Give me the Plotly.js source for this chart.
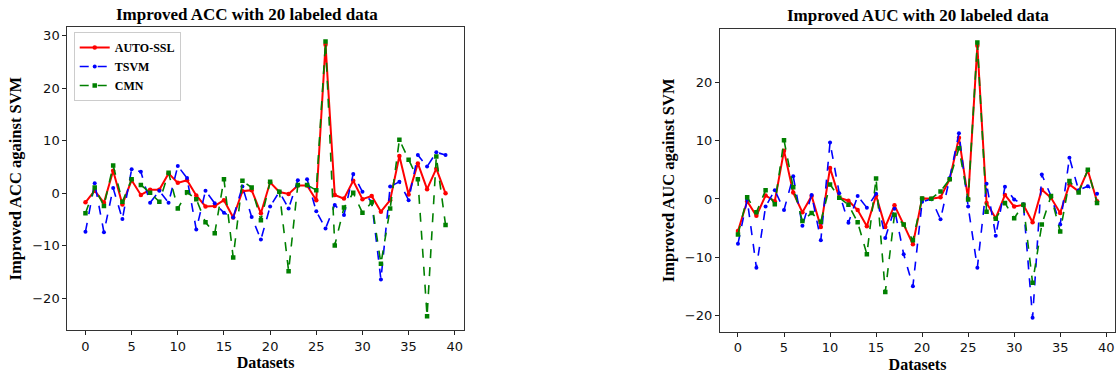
<!DOCTYPE html>
<html>
<head>
<meta charset="utf-8">
<script src="https://cdn.plot.ly/plotly-3.0.1.min.js"></script>
<style>html,body{margin:0;padding:0;background:#fff;}#chart{width:1117px;height:377px;}</style>
</head>
<body>
<div id="chart"></div>
<script>
const datasets = Array.from({length: 40}, (_, i) => i);
const seriesNames = ["AUTO-SSL", "TSVM", "CMN"];

const accAutoSSL = [-1.7, 0.5, -1.8, 4.3, -2.1, 2.5, -0.3, 0.7, 0.7, 3.8,
  2.0, 2.5, -0.4, -2.5, -2.4, -1.3, -4.6, 0.4, 0.6, -3.8,
  2.1, 0.25, -0.1, 1.5, 1.5, -1.3, 28.3, -0.3, -1.0, 2.4,
  -1.1, -0.5, -3.5, -1.3, 7.1, -0.2, 5.7, 0.8, 4.7, 0.0];
const accTSVM = [-7.3, 1.9, -7.4, 1.0, -4.9, 4.6, 4.1, -1.8, 0.5, -1.8,
  5.2, 2.9, -6.9, 0.5, -1.9, -3.7, -4.6, 1.3, -4.5, -8.8,
  -2.5, 0.3, -2.9, 2.5, 2.7, -3.4, -6.7, -2.2, -4.1, 3.7,
  0.3, -1.6, -16.4, 1.3, 2.2, -1.3, 7.3, 5.1, 7.8, 7.3];
const accCMN = [-3.8, 1.1, -2.4, 5.3, -1.6, 2.7, 1.6, 0.1, -1.6, 3.9,
  -2.9, 0.2, -1.1, -5.5, -7.6, 2.7, -12.2, 2.4, 1.1, -5.1,
  2.2, 0.3, -14.8, 1.6, 1.6, 0.6, 28.9, -9.9, -2.7, 0.1,
  -3.7, -1.7, -13.4, -2.9, 10.2, 6.4, 2.7, -23.4, 7.0, -6.0];

const aucAutoSSL = [-5.5, -0.4, -2.9, 0.6, -0.4, 8.3, 1.1, -2.3, 0.5, -4.8,
  5.3, 0.2, -0.3, -1.9, -4.7, 0.6, -4.8, -1.1, -4.4, -7.8,
  0.1, 0.05, 0.3, 3.4, 10.5, 0.0, 26.3, -0.7, -3.3, 0.7,
  -1.3, -1.0, -4.0, 1.6, 0.2, -2.4, 2.5, 1.3, 4.9, -0.4];
const aucTSVM = [-7.7, -0.1, -11.8, -1.3, 1.5, -1.9, 3.9, -4.6, 0.7, -7.1,
  9.7, 1.0, -4.1, 0.5, -1.5, 0.9, -6.7, -1.7, -9.5, -15.0,
  -0.5, 0.0, -3.5, 3.6, 11.3, -1.3, -11.8, 2.6, -6.3, 2.1,
  -0.1, -0.9, -20.4, 4.2, 0.5, -4.4, 7.1, 1.5, 2.2, 0.9];
const aucCMN = [-6.1, 0.3, -2.3, 1.5, -0.9, 10.1, 2.0, -3.8, -2.4, -3.9,
  2.5, 0.2, -1.0, -4.0, -9.5, 3.5, -16.0, -2.7, -4.4, -7.1,
  0.1, 0.05, 1.3, 3.4, 8.7, -0.1, 26.9, -2.2, -3.4, -0.7,
  -3.3, -1.0, -14.4, -4.4, 0.5, -5.6, 3.1, 1.1, 5.0, -0.7];

const xTicks = [0, 5, 10, 15, 20, 25, 30, 35, 40];
const accYTicks = [-20, -10, 0, 10, 20, 30];
const aucYTicks = [-20, -10, 0, 10, 20];

const styles = [
  {color: "#ff0000", width: 2, dash: "solid", symbol: "circle", size: 4.5},
  {color: "#0000ff", width: 1.6, dash: "dash", symbol: "circle", size: 4},
  {color: "#008000", width: 1.6, dash: "dash", symbol: "square", size: 4.5}
];

function mk(y, k, xa, ya, show) {
  const s = styles[k];
  return {
    x: datasets, y: y, type: "scatter", mode: "lines+markers",
    name: seriesNames[k], xaxis: xa, yaxis: ya, showlegend: show,
    line: {color: s.color, width: s.width, dash: s.dash},
    marker: {color: s.color, size: s.size, symbol: s.symbol}
  };
}

const traces = [
  mk(accAutoSSL, 0, "x", "y", true),
  mk(accTSVM, 1, "x", "y", true),
  mk(accCMN, 2, "x", "y", true),
  mk(aucAutoSSL, 0, "x2", "y2", false),
  mk(aucTSVM, 1, "x2", "y2", false),
  mk(aucCMN, 2, "x2", "y2", false)
];

const tickFont = {family: "DejaVu Sans", size: 13, color: "#111"};
const serifBold = (sz) => ({family: "Liberation Serif", size: sz, color: "#000", weight: "bold"});

function xax(domain, anchor) {
  return {
    domain: domain, anchor: anchor, range: [-1.95, 40.95],
    tickvals: xTicks, ticktext: xTicks.map(String),
    ticks: "outside", ticklen: 4, tickwidth: 1, tickcolor: "#222",
    showline: true, mirror: true, linecolor: "#333", linewidth: 1.2,
    showgrid: false, zeroline: false, tickfont: tickFont,
    title: {text: "<b>Datasets</b>", font: serifBold(16), standoff: 4}
  };
}
function yax(domain, anchor, range, ticks, label) {
  return {
    domain: domain, anchor: anchor, range: range,
    tickvals: ticks, ticktext: ticks.map(v => v < 0 ? "\u2212" + Math.abs(v) : String(v)),
    ticks: "outside", ticklen: 4, tickwidth: 1, tickcolor: "#222",
    showline: true, mirror: true, linecolor: "#333", linewidth: 1.2,
    showgrid: false, zeroline: false, tickfont: tickFont,
    title: {text: "<b>" + label + "</b>", font: serifBold(16.5), standoff: 6}
  };
}

const layout = {
  width: 1117, height: 377,
  margin: {l: 0, r: 0, t: 0, b: 0},
  paper_bgcolor: "#fff", plot_bgcolor: "#fff",
  xaxis: xax([0.0604, 0.415], "y"),
  yaxis: yax([0.1247, 0.9276], "x", [-26.0, 31.6], accYTicks, "Improved ACC against SVM"),
  xaxis2: xax([0.6446, 0.9982], "y2"),
  yaxis2: yax([0.1202, 0.9231], "x2", [-22.8, 29.2], aucYTicks, "Improved AUC against SVM"),
  showlegend: true,
  legend: {
    x: 0.066, y: 0.915, xanchor: "left", yanchor: "top",
    bgcolor: "rgba(255,255,255,0.9)", bordercolor: "#cccccc", borderwidth: 1,
    font: serifBold(12), tracegroupgap: 0, itemwidth: 30
  },
  annotations: [
    {text: "<b>Improved ACC with 20 labeled data</b>", xref: "paper", yref: "paper",
     x: 0.2213, y: 1 - 15/377, xanchor: "center", yanchor: "middle", showarrow: false, font: serifBold(17)},
    {text: "<b>Improved AUC with 20 labeled data</b>", xref: "paper", yref: "paper",
     x: 0.8214, y: 1 - 16/377, xanchor: "center", yanchor: "middle", showarrow: false, font: serifBold(17)}
  ]
};

Plotly.newPlot("chart", traces, layout, {displayModeBar: false, staticPlot: true});
</script>
</body>
</html>
